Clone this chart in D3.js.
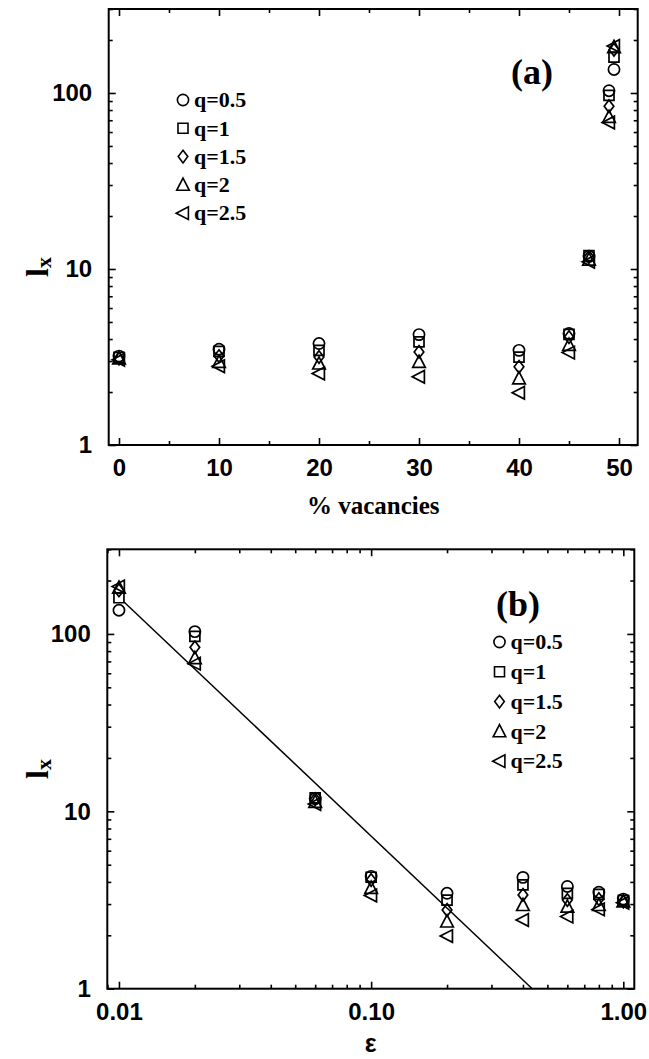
<!DOCTYPE html>
<html>
<head>
<meta charset="utf-8">
<script src="https://cdn.jsdelivr.net/npm/d3@7"></script>
<style>
  body { margin: 0; background: #fff; }
  svg { display: block; }
</style>
</head>
<body>
<svg id="chart" width="649" height="1059"></svg>
<script>
// Vacancy concentration (%) and the matching distance from the threshold, ε = 1 - 2p/100
const vacancies = [0, 10, 20, 30, 40, 45, 47, 49, 49.5];
const epsilon   = [1.0, 0.8, 0.6, 0.4, 0.2, 0.1, 0.06, 0.02, 0.01];

// Correlation length l_x for each q
const seriesNames = ["q=0.5", "q=1", "q=1.5", "q=2", "q=2.5"];
const lxQ05 = [3.2, 3.5, 3.77, 4.24, 3.45, 4.3, 11.8, 103, 136];
const lxQ10 = [3.15, 3.4, 3.45, 3.85, 3.16, 4.25, 11.9, 97, 160];
const lxQ15 = [3.1, 3.2, 3.16, 3.38, 2.78, 4.1, 11.7, 84, 176];
const lxQ20 = [3.1, 2.96, 2.9, 2.96, 2.39, 3.7, 11.3, 73, 182];
const lxQ25 = [3.05, 2.8, 2.55, 2.44, 1.98, 3.35, 11.0, 68, 185];
const seriesValues = [lxQ05, lxQ10, lxQ15, lxQ20, lxQ25];
const seriesShapes = ["circle", "square", "diamond", "triangleUp", "triangleLeft"];

// Power-law guide line in panel (b)
const fitEps = [0.0105, 0.435];
const fitLx  = [151, 1];

// Tick labels
const xTicksA = [0, 10, 20, 30, 40, 50];
const xTickLabelsA = ["0", "10", "20", "30", "40", "50"];
const xMinorA = [5, 15, 25, 35, 45];
const xTicksB = [0.01, 0.1, 1];
const xTickLabelsB = ["0.01", "0.10", "1.00"];
const yTicks = [1, 10, 100];
const yTickLabels = ["1", "10", "100"];

const svg = d3.select("#chart");
const SANS = "'Liberation Sans', Arial, Helvetica, sans-serif";
const SERIF = "'Liberation Serif', 'Times New Roman', Times, serif";

// Hollow marker outlines centred on (0,0)
function markerPath(shape) {
  const p = d3.path();
  switch (shape) {
    case "circle":
      p.moveTo(5.6, 0); p.arc(0, 0, 5.6, 0, 2 * Math.PI); break;
    case "square":
      p.rect(-5, -5, 10, 10); break;
    case "diamond":
      p.moveTo(0, -6.3); p.lineTo(4.8, 0); p.lineTo(0, 6.3); p.lineTo(-4.8, 0); p.closePath(); break;
    case "triangleUp":
      p.moveTo(0, -6.8); p.lineTo(6.3, 5.4); p.lineTo(-6.3, 5.4); p.closePath(); break;
    case "triangleLeft":
      p.moveTo(-6.8, 0); p.lineTo(5.4, -6.3); p.lineTo(5.4, 6.3); p.closePath(); break;
  }
  return p.toString();
}

function logMinor(lo, hi) {
  const out = [];
  for (let d = Math.floor(Math.log10(lo)); d <= Math.ceil(Math.log10(hi)); d++) {
    for (let k = 2; k <= 9; k++) {
      const v = k * Math.pow(10, d);
      if (v >= lo && v <= hi) out.push(v);
    }
  }
  return out;
}

function drawPanel(cfg) {
  const { left, right, top, bottom, x, xValues, xTicks, xTickLabels, xMinor } = cfg;
  const y = d3.scaleLog().domain([1, 300]).range([bottom, top]);
  const g = svg.append("g");
  const MAJ = 7, MIN = 4;

  const styleTicks = sel => {
    sel.select(".domain").remove();
    sel.selectAll(".tick line").attr("stroke", "#000").attr("stroke-width", 1.6);
  };

  // bottom / top x ticks (pointing inward)
  g.append("g").attr("transform", `translate(0,${bottom})`)
    .call(d3.axisBottom(x).tickValues(xTicks).tickSize(-MAJ).tickPadding(14)
      .tickFormat((d, i) => xTickLabels[i]))
    .call(styleTicks)
    .call(s => s.selectAll("text").attr("font-family", SANS).attr("font-weight", "bold")
      .attr("font-size", 24).attr("fill", "#000"));
  g.append("g").attr("transform", `translate(0,${bottom})`)
    .call(d3.axisBottom(x).tickValues(xMinor).tickSize(-MIN).tickFormat(""))
    .call(styleTicks);
  g.append("g").attr("transform", `translate(0,${top})`)
    .call(d3.axisTop(x).tickValues(xTicks).tickSize(-MAJ).tickFormat(""))
    .call(styleTicks);
  g.append("g").attr("transform", `translate(0,${top})`)
    .call(d3.axisTop(x).tickValues(xMinor).tickSize(-MIN).tickFormat(""))
    .call(styleTicks);

  // left / right y ticks
  const yMinor = logMinor(1, 300);
  g.append("g").attr("transform", `translate(${left},0)`)
    .call(d3.axisLeft(y).tickValues(yTicks).tickSize(-MAJ).tickPadding(16.5)
      .tickFormat((d, i) => yTickLabels[i]))
    .call(styleTicks)
    .call(s => s.selectAll("text").attr("font-family", SANS).attr("font-weight", "bold")
      .attr("font-size", 24).attr("fill", "#000"));
  g.append("g").attr("transform", `translate(${left},0)`)
    .call(d3.axisLeft(y).tickValues(yMinor).tickSize(-MIN).tickFormat(""))
    .call(styleTicks);
  g.append("g").attr("transform", `translate(${right},0)`)
    .call(d3.axisRight(y).tickValues(yTicks).tickSize(-MAJ).tickFormat(""))
    .call(styleTicks);
  g.append("g").attr("transform", `translate(${right},0)`)
    .call(d3.axisRight(y).tickValues(yMinor).tickSize(-MIN).tickFormat(""))
    .call(styleTicks);

  // frame
  g.append("rect").attr("x", left).attr("y", top)
    .attr("width", right - left).attr("height", bottom - top)
    .attr("fill", "none").attr("stroke", "#000").attr("stroke-width", 2);

  // guide line
  if (cfg.fit) {
    const line = d3.line().x(d => x(d[0])).y(d => y(d[1]));
    g.append("path").datum(fitEps.map((e, i) => [e, fitLx[i]]))
      .attr("d", line).attr("fill", "none").attr("stroke", "#000").attr("stroke-width", 1.5);
  }

  // data markers
  seriesValues.forEach((vals, si) => {
    g.append("g").selectAll("path")
      .data(vals.map((v, i) => [xValues[i], v]))
      .join("path")
      .attr("transform", d => `translate(${x(d[0])},${y(d[1])})`)
      .attr("d", markerPath(seriesShapes[si]))
      .attr("fill", "none").attr("stroke", "#000").attr("stroke-width", 1.7);
  });

  // legend
  const lg = g.append("g");
  seriesNames.forEach((name, i) => {
    const ly = cfg.legendY + i * cfg.legendStep;
    lg.append("path").attr("transform", `translate(${cfg.legendX},${ly})`)
      .attr("d", markerPath(seriesShapes[i]))
      .attr("fill", "none").attr("stroke", "#000").attr("stroke-width", 1.6);
    lg.append("text").attr("x", cfg.legendX + 11).attr("y", ly).attr("dy", "0.33em")
      .attr("font-family", SERIF).attr("font-weight", "bold").attr("font-size", 22)
      .text(name);
  });

  // panel tag
  g.append("text").attr("x", cfg.tagX).attr("y", cfg.tagY)
    .attr("font-family", SERIF).attr("font-weight", "bold").attr("font-size", 36)
    .text(cfg.tag);

  // axis titles
  const cy = (top + bottom) / 2 + cfg.yTitleShift;
  const yt = g.append("text")
    .attr("transform", `translate(48,${cy}) rotate(-90)`)
    .attr("text-anchor", "middle")
    .attr("font-family", SERIF).attr("font-weight", "bold");
  yt.append("tspan").attr("font-size", 32).text("l");
  yt.append("tspan").attr("font-size", 22).attr("dy", 3).text("x");

  g.append("text").attr("x", (left + right) / 2).attr("y", bottom + cfg.xTitleGap).attr("dy", "0.35em")
    .attr("text-anchor", "middle")
    .attr("font-family", cfg.xTitleFont).attr("font-weight", "bold").attr("font-size", 25)
    .text(cfg.xTitle);
}

// Panel (a): l_x versus vacancy percentage
drawPanel({
  left: 108.7, right: 637.7, top: 9, bottom: 445,
  x: d3.scaleLinear().domain([-1.03, 51.87]).range([108.7, 637.7]),
  xValues: vacancies, xTicks: xTicksA, xTickLabels: xTickLabelsA, xMinor: xMinorA,
  legendX: 183, legendY: 100, legendStep: 28.3,
  tag: "(a)", tagX: 511, tagY: 84,
  yTitleShift: 40,
  xTitle: "% vacancies", xTitleFont: SERIF, xTitleGap: 60,
  fit: false
});

// Panel (b): l_x versus ε on log–log axes
drawPanel({
  left: 107.3, right: 634.3, top: 549.3, bottom: 988.7,
  x: d3.scaleLog().domain([0.00899, 1.1056]).range([107.3, 634.3]),
  xValues: epsilon, xTicks: xTicksB, xTickLabels: xTickLabelsB,
  xMinor: logMinor(0.009, 1.1),
  legendX: 499.5, legendY: 642, legendStep: 29.8,
  tag: "(b)", tagX: 496, tagY: 616,
  yTitleShift: 0,
  xTitle: "ε", xTitleFont: SANS, xTitleGap: 55,
  fit: true
});
</script>
</body>
</html>
